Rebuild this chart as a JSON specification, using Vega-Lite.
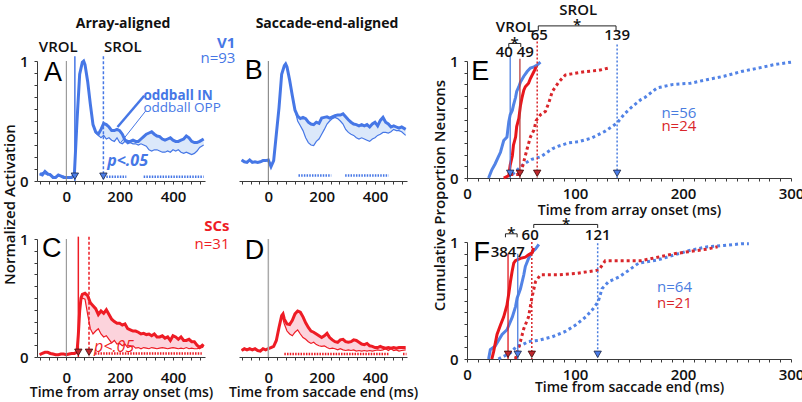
{
"$schema":"https://vega.github.io/schema/vega-lite/v6.json",
"background":"white",
"padding":{"left":2,"top":3,"right":2,"bottom":2},
"config":{
 "view":{"stroke":null},
 "font":"Open Sans",
 "axis":{"grid":false,"domainColor":"#3a3a3a","tickColor":"#3a3a3a","domainWidth":1,"tickWidth":1,"tickSize":3,"labelFont":"Open Sans","labelFontSize":15,"labelFontWeight":600,"labelColor":"#111","labelPadding":5,"labelOverlap":false,"labelFlush":false,"titleFont":"Open Sans","titleFontSize":14,"titleFontWeight":600,"titleColor":"#111","titlePadding":2},
 "title":{"font":"Open Sans","fontSize":14,"fontWeight":"bold","color":"#111","anchor":"middle","frame":"group"},
 "text":{"font":"Open Sans","fontSize":15}
},
"datasets":{
"A":[{"t":-100,"oddIn":0.06,"oddOpp":0.06},{"t":-90,"oddIn":0.05,"oddOpp":0.07},{"t":-80,"oddIn":0.08,"oddOpp":0.06},{"t":-70,"oddIn":0.06,"oddOpp":0.05},{"t":-60,"oddIn":0.05,"oddOpp":0.06},{"t":-50,"oddIn":0.03,"oddOpp":0.04},{"t":-40,"oddIn":0.03,"oddOpp":0.03},{"t":-30,"oddIn":0.05,"oddOpp":0.04},{"t":-20,"oddIn":0.04,"oddOpp":0.04},{"t":-10,"oddIn":0.03,"oddOpp":0.04},{"t":0,"oddIn":0.03,"oddOpp":0.03},{"t":10,"oddIn":0.03,"oddOpp":0.03},{"t":20,"oddIn":0.03,"oddOpp":0.03},{"t":30,"oddIn":0.05,"oddOpp":0.05},{"t":40,"oddIn":0.5,"oddOpp":0.5},{"t":50,"oddIn":0.89,"oddOpp":0.89},{"t":60,"oddIn":0.99,"oddOpp":0.99},{"t":65,"oddIn":1,"oddOpp":1},{"t":70,"oddIn":0.97,"oddOpp":0.97},{"t":80,"oddIn":0.83,"oddOpp":0.83},{"t":90,"oddIn":0.64,"oddOpp":0.64},{"t":100,"oddIn":0.47,"oddOpp":0.47},{"t":110,"oddIn":0.41,"oddOpp":0.4},{"t":120,"oddIn":0.39,"oddOpp":0.38},{"t":130,"oddIn":0.43,"oddOpp":0.36},{"t":140,"oddIn":0.48,"oddOpp":0.38},{"t":150,"oddIn":0.47,"oddOpp":0.35},{"t":160,"oddIn":0.45,"oddOpp":0.36},{"t":170,"oddIn":0.42,"oddOpp":0.34},{"t":180,"oddIn":0.42,"oddOpp":0.33},{"t":190,"oddIn":0.43,"oddOpp":0.36},{"t":200,"oddIn":0.42,"oddOpp":0.32},{"t":210,"oddIn":0.39,"oddOpp":0.31},{"t":220,"oddIn":0.34,"oddOpp":0.33},{"t":230,"oddIn":0.33,"oddOpp":0.31},{"t":240,"oddIn":0.33,"oddOpp":0.32},{"t":250,"oddIn":0.34,"oddOpp":0.31},{"t":260,"oddIn":0.33,"oddOpp":0.31},{"t":270,"oddIn":0.33,"oddOpp":0.3},{"t":280,"oddIn":0.35,"oddOpp":0.31},{"t":290,"oddIn":0.37,"oddOpp":0.3},{"t":300,"oddIn":0.39,"oddOpp":0.29},{"t":310,"oddIn":0.4,"oddOpp":0.26},{"t":320,"oddIn":0.41,"oddOpp":0.25},{"t":330,"oddIn":0.39,"oddOpp":0.26},{"t":340,"oddIn":0.375,"oddOpp":0.26},{"t":350,"oddIn":0.37,"oddOpp":0.25},{"t":360,"oddIn":0.35,"oddOpp":0.24},{"t":370,"oddIn":0.34,"oddOpp":0.24},{"t":380,"oddIn":0.35,"oddOpp":0.25},{"t":390,"oddIn":0.36,"oddOpp":0.24},{"t":400,"oddIn":0.34,"oddOpp":0.26},{"t":410,"oddIn":0.33,"oddOpp":0.25},{"t":420,"oddIn":0.33,"oddOpp":0.26},{"t":430,"oddIn":0.34,"oddOpp":0.24},{"t":440,"oddIn":0.35,"oddOpp":0.23},{"t":450,"oddIn":0.375,"oddOpp":0.24},{"t":460,"oddIn":0.36,"oddOpp":0.23},{"t":470,"oddIn":0.33,"oddOpp":0.22},{"t":480,"oddIn":0.32,"oddOpp":0.23},{"t":490,"oddIn":0.32,"oddOpp":0.25},{"t":500,"oddIn":0.33,"oddOpp":0.28},{"t":515,"oddIn":0.35,"oddOpp":0.3}],
"B":[{"t":-100,"oddIn":0.175,"oddOpp":0.175},{"t":-90,"oddIn":0.16,"oddOpp":0.16},{"t":-80,"oddIn":0.155,"oddOpp":0.16},{"t":-70,"oddIn":0.175,"oddOpp":0.17},{"t":-60,"oddIn":0.155,"oddOpp":0.16},{"t":-50,"oddIn":0.16,"oddOpp":0.155},{"t":-40,"oddIn":0.155,"oddOpp":0.16},{"t":-30,"oddIn":0.16,"oddOpp":0.16},{"t":-20,"oddIn":0.17,"oddOpp":0.165},{"t":-10,"oddIn":0.17,"oddOpp":0.17},{"t":0,"oddIn":0.175,"oddOpp":0.175},{"t":10,"oddIn":0.12,"oddOpp":0.12},{"t":20,"oddIn":0.17,"oddOpp":0.17},{"t":30,"oddIn":0.39,"oddOpp":0.39},{"t":40,"oddIn":0.61,"oddOpp":0.61},{"t":50,"oddIn":0.89,"oddOpp":0.89},{"t":60,"oddIn":0.96,"oddOpp":0.96},{"t":65,"oddIn":0.975,"oddOpp":0.975},{"t":70,"oddIn":0.95,"oddOpp":0.95},{"t":80,"oddIn":0.84,"oddOpp":0.84},{"t":90,"oddIn":0.71,"oddOpp":0.71},{"t":100,"oddIn":0.59,"oddOpp":0.59},{"t":110,"oddIn":0.54,"oddOpp":0.5},{"t":120,"oddIn":0.52,"oddOpp":0.46},{"t":130,"oddIn":0.53,"oddOpp":0.42},{"t":140,"oddIn":0.52,"oddOpp":0.36},{"t":150,"oddIn":0.49,"oddOpp":0.32},{"t":160,"oddIn":0.475,"oddOpp":0.3},{"t":170,"oddIn":0.47,"oddOpp":0.295},{"t":180,"oddIn":0.49,"oddOpp":0.33},{"t":190,"oddIn":0.48,"oddOpp":0.35},{"t":200,"oddIn":0.525,"oddOpp":0.39},{"t":210,"oddIn":0.53,"oddOpp":0.43},{"t":220,"oddIn":0.535,"oddOpp":0.475},{"t":230,"oddIn":0.525,"oddOpp":0.5},{"t":240,"oddIn":0.535,"oddOpp":0.52},{"t":250,"oddIn":0.545,"oddOpp":0.53},{"t":260,"oddIn":0.55,"oddOpp":0.52},{"t":270,"oddIn":0.55,"oddOpp":0.5},{"t":280,"oddIn":0.56,"oddOpp":0.475},{"t":290,"oddIn":0.535,"oddOpp":0.43},{"t":300,"oddIn":0.51,"oddOpp":0.405},{"t":310,"oddIn":0.49,"oddOpp":0.39},{"t":320,"oddIn":0.475,"oddOpp":0.38},{"t":330,"oddIn":0.47,"oddOpp":0.36},{"t":340,"oddIn":0.46,"oddOpp":0.35},{"t":350,"oddIn":0.47,"oddOpp":0.36},{"t":360,"oddIn":0.46,"oddOpp":0.35},{"t":370,"oddIn":0.47,"oddOpp":0.34},{"t":380,"oddIn":0.45,"oddOpp":0.33},{"t":390,"oddIn":0.475,"oddOpp":0.35},{"t":400,"oddIn":0.49,"oddOpp":0.36},{"t":410,"oddIn":0.46,"oddOpp":0.38},{"t":420,"oddIn":0.505,"oddOpp":0.39},{"t":430,"oddIn":0.53,"oddOpp":0.405},{"t":440,"oddIn":0.49,"oddOpp":0.405},{"t":450,"oddIn":0.475,"oddOpp":0.4},{"t":460,"oddIn":0.45,"oddOpp":0.41},{"t":470,"oddIn":0.46,"oddOpp":0.43},{"t":480,"oddIn":0.45,"oddOpp":0.42},{"t":490,"oddIn":0.44,"oddOpp":0.42},{"t":500,"oddIn":0.45,"oddOpp":0.41},{"t":515,"oddIn":0.43,"oddOpp":0.38}],
"C":[{"t":-100,"oddIn":0.02,"oddOpp":0.02},{"t":-90,"oddIn":0.03,"oddOpp":0.03},{"t":-80,"oddIn":0.04,"oddOpp":0.04},{"t":-70,"oddIn":0.04,"oddOpp":0.04},{"t":-60,"oddIn":0.03,"oddOpp":0.03},{"t":-50,"oddIn":0.025,"oddOpp":0.025},{"t":-40,"oddIn":0.02,"oddOpp":0.02},{"t":-30,"oddIn":0.02,"oddOpp":0.02},{"t":-20,"oddIn":0.025,"oddOpp":0.025},{"t":-10,"oddIn":0.025,"oddOpp":0.025},{"t":0,"oddIn":0.02,"oddOpp":0.02},{"t":10,"oddIn":0.025,"oddOpp":0.025},{"t":20,"oddIn":0.03,"oddOpp":0.03},{"t":30,"oddIn":0.03,"oddOpp":0.03},{"t":40,"oddIn":0.04,"oddOpp":0.04},{"t":45,"oddIn":0.19,"oddOpp":0.19},{"t":50,"oddIn":0.39,"oddOpp":0.39},{"t":55,"oddIn":0.5,"oddOpp":0.48},{"t":60,"oddIn":0.53,"oddOpp":0.5},{"t":70,"oddIn":0.54,"oddOpp":0.49},{"t":80,"oddIn":0.52,"oddOpp":0.36},{"t":90,"oddIn":0.46,"oddOpp":0.24},{"t":100,"oddIn":0.435,"oddOpp":0.195},{"t":110,"oddIn":0.41,"oddOpp":0.22},{"t":120,"oddIn":0.36,"oddOpp":0.24},{"t":130,"oddIn":0.39,"oddOpp":0.195},{"t":140,"oddIn":0.37,"oddOpp":0.17},{"t":150,"oddIn":0.4,"oddOpp":0.18},{"t":160,"oddIn":0.36,"oddOpp":0.15},{"t":170,"oddIn":0.32,"oddOpp":0.12},{"t":180,"oddIn":0.3,"oddOpp":0.14},{"t":190,"oddIn":0.285,"oddOpp":0.11},{"t":200,"oddIn":0.285,"oddOpp":0.115},{"t":210,"oddIn":0.27,"oddOpp":0.095},{"t":220,"oddIn":0.28,"oddOpp":0.11},{"t":230,"oddIn":0.24,"oddOpp":0.08},{"t":240,"oddIn":0.23,"oddOpp":0.09},{"t":250,"oddIn":0.22,"oddOpp":0.095},{"t":260,"oddIn":0.22,"oddOpp":0.075},{"t":270,"oddIn":0.21,"oddOpp":0.08},{"t":280,"oddIn":0.195,"oddOpp":0.07},{"t":290,"oddIn":0.2,"oddOpp":0.08},{"t":300,"oddIn":0.19,"oddOpp":0.075},{"t":310,"oddIn":0.195,"oddOpp":0.07},{"t":320,"oddIn":0.18,"oddOpp":0.08},{"t":330,"oddIn":0.195,"oddOpp":0.075},{"t":340,"oddIn":0.17,"oddOpp":0.07},{"t":350,"oddIn":0.17,"oddOpp":0.075},{"t":360,"oddIn":0.18,"oddOpp":0.08},{"t":370,"oddIn":0.16,"oddOpp":0.075},{"t":380,"oddIn":0.17,"oddOpp":0.07},{"t":390,"oddIn":0.14,"oddOpp":0.075},{"t":400,"oddIn":0.18,"oddOpp":0.08},{"t":410,"oddIn":0.17,"oddOpp":0.075},{"t":420,"oddIn":0.15,"oddOpp":0.07},{"t":430,"oddIn":0.17,"oddOpp":0.075},{"t":440,"oddIn":0.14,"oddOpp":0.07},{"t":450,"oddIn":0.14,"oddOpp":0.08},{"t":460,"oddIn":0.15,"oddOpp":0.07},{"t":470,"oddIn":0.13,"oddOpp":0.075},{"t":480,"oddIn":0.13,"oddOpp":0.07},{"t":490,"oddIn":0.1,"oddOpp":0.07},{"t":500,"oddIn":0.08,"oddOpp":0.075},{"t":510,"oddIn":0.1,"oddOpp":0.08},{"t":515,"oddIn":0.09,"oddOpp":0.09}],
"D":[{"t":-100,"oddIn":0.055,"oddOpp":0.055},{"t":-90,"oddIn":0.07,"oddOpp":0.065},{"t":-80,"oddIn":0.06,"oddOpp":0.06},{"t":-70,"oddIn":0.07,"oddOpp":0.065},{"t":-60,"oddIn":0.06,"oddOpp":0.06},{"t":-50,"oddIn":0.07,"oddOpp":0.065},{"t":-40,"oddIn":0.055,"oddOpp":0.055},{"t":-30,"oddIn":0.05,"oddOpp":0.05},{"t":-20,"oddIn":0.07,"oddOpp":0.065},{"t":-10,"oddIn":0.06,"oddOpp":0.06},{"t":0,"oddIn":0.07,"oddOpp":0.07},{"t":10,"oddIn":0.08,"oddOpp":0.08},{"t":20,"oddIn":0.09,"oddOpp":0.09},{"t":30,"oddIn":0.14,"oddOpp":0.14},{"t":40,"oddIn":0.25,"oddOpp":0.25},{"t":50,"oddIn":0.35,"oddOpp":0.34},{"t":55,"oddIn":0.365,"oddOpp":0.32},{"t":60,"oddIn":0.32,"oddOpp":0.28},{"t":70,"oddIn":0.28,"oddOpp":0.22},{"t":80,"oddIn":0.275,"oddOpp":0.195},{"t":90,"oddIn":0.31,"oddOpp":0.18},{"t":100,"oddIn":0.365,"oddOpp":0.21},{"t":110,"oddIn":0.39,"oddOpp":0.23},{"t":120,"oddIn":0.38,"oddOpp":0.195},{"t":130,"oddIn":0.34,"oddOpp":0.165},{"t":140,"oddIn":0.29,"oddOpp":0.15},{"t":150,"oddIn":0.25,"oddOpp":0.13},{"t":160,"oddIn":0.22,"oddOpp":0.115},{"t":170,"oddIn":0.21,"oddOpp":0.125},{"t":180,"oddIn":0.195,"oddOpp":0.105},{"t":190,"oddIn":0.18,"oddOpp":0.095},{"t":200,"oddIn":0.165,"oddOpp":0.09},{"t":210,"oddIn":0.18,"oddOpp":0.095},{"t":220,"oddIn":0.2,"oddOpp":0.08},{"t":230,"oddIn":0.165,"oddOpp":0.07},{"t":240,"oddIn":0.145,"oddOpp":0.075},{"t":250,"oddIn":0.13,"oddOpp":0.07},{"t":260,"oddIn":0.125,"oddOpp":0.06},{"t":270,"oddIn":0.145,"oddOpp":0.07},{"t":280,"oddIn":0.15,"oddOpp":0.06},{"t":290,"oddIn":0.13,"oddOpp":0.055},{"t":300,"oddIn":0.125,"oddOpp":0.06},{"t":310,"oddIn":0.13,"oddOpp":0.055},{"t":320,"oddIn":0.145,"oddOpp":0.06},{"t":330,"oddIn":0.14,"oddOpp":0.05},{"t":340,"oddIn":0.125,"oddOpp":0.055},{"t":350,"oddIn":0.11,"oddOpp":0.05},{"t":360,"oddIn":0.105,"oddOpp":0.055},{"t":370,"oddIn":0.115,"oddOpp":0.05},{"t":380,"oddIn":0.095,"oddOpp":0.055},{"t":390,"oddIn":0.09,"oddOpp":0.05},{"t":400,"oddIn":0.08,"oddOpp":0.055},{"t":410,"oddIn":0.08,"oddOpp":0.06},{"t":420,"oddIn":0.09,"oddOpp":0.055},{"t":430,"oddIn":0.08,"oddOpp":0.06},{"t":440,"oddIn":0.075,"oddOpp":0.07},{"t":450,"oddIn":0.08,"oddOpp":0.055},{"t":460,"oddIn":0.075,"oddOpp":0.07},{"t":470,"oddIn":0.08,"oddOpp":0.055},{"t":480,"oddIn":0.075,"oddOpp":0.06},{"t":490,"oddIn":0.08,"oddOpp":0.05},{"t":500,"oddIn":0.08,"oddOpp":0.055},{"t":515,"oddIn":0.08,"oddOpp":0.06}],
"cdf":[
{"p":"E","s":"v1V","t":20,"v":0},{"p":"E","s":"v1V","t":23,"v":0.07},{"p":"E","s":"v1V","t":26,"v":0.12},{"p":"E","s":"v1V","t":29,"v":0.18},{"p":"E","s":"v1V","t":31,"v":0.22},{"p":"E","s":"v1V","t":32.5,"v":0.27},{"p":"E","s":"v1V","t":34,"v":0.32},{"p":"E","s":"v1V","t":36,"v":0.34},{"p":"E","s":"v1V","t":37,"v":0.35},{"p":"E","s":"v1V","t":38.7,"v":0.48},{"p":"E","s":"v1V","t":40,"v":0.54},{"p":"E","s":"v1V","t":42,"v":0.58},{"p":"E","s":"v1V","t":43,"v":0.62},{"p":"E","s":"v1V","t":45,"v":0.69},{"p":"E","s":"v1V","t":46,"v":0.74},{"p":"E","s":"v1V","t":48,"v":0.78},{"p":"E","s":"v1V","t":49.5,"v":0.82},{"p":"E","s":"v1V","t":52.6,"v":0.87},{"p":"E","s":"v1V","t":55.7,"v":0.91},{"p":"E","s":"v1V","t":58.7,"v":0.94},{"p":"E","s":"v1V","t":62,"v":0.95},{"p":"E","s":"v1V","t":65,"v":0.966},{"p":"E","s":"v1V","t":68,"v":0.99},
{"p":"E","s":"scV","t":34,"v":0},{"p":"E","s":"scV","t":38.7,"v":0.02},{"p":"E","s":"scV","t":40,"v":0.11},{"p":"E","s":"scV","t":42,"v":0.19},{"p":"E","s":"scV","t":43,"v":0.28},{"p":"E","s":"scV","t":45,"v":0.35},{"p":"E","s":"scV","t":46,"v":0.44},{"p":"E","s":"scV","t":48,"v":0.51},{"p":"E","s":"scV","t":49.5,"v":0.62},{"p":"E","s":"scV","t":51,"v":0.69},{"p":"E","s":"scV","t":52.6,"v":0.75},{"p":"E","s":"scV","t":54,"v":0.78},{"p":"E","s":"scV","t":57,"v":0.81},{"p":"E","s":"scV","t":58.7,"v":0.85},{"p":"E","s":"scV","t":62,"v":0.91},{"p":"E","s":"scV","t":64,"v":0.95},
{"p":"E","s":"scS","t":40,"v":0.03},{"p":"E","s":"scS","t":49.5,"v":0.03},{"p":"E","s":"scS","t":52.6,"v":0.14},{"p":"E","s":"scS","t":55.7,"v":0.25},{"p":"E","s":"scS","t":58.7,"v":0.35},{"p":"E","s":"scS","t":62,"v":0.41},{"p":"E","s":"scS","t":64,"v":0.49},{"p":"E","s":"scS","t":68,"v":0.54},{"p":"E","s":"scS","t":72.7,"v":0.57},{"p":"E","s":"scS","t":76,"v":0.65},{"p":"E","s":"scS","t":79,"v":0.74},{"p":"E","s":"scS","t":85,"v":0.82},{"p":"E","s":"scS","t":91,"v":0.88},{"p":"E","s":"scS","t":97,"v":0.89},{"p":"E","s":"scS","t":110,"v":0.91},{"p":"E","s":"scS","t":122,"v":0.92},{"p":"E","s":"scS","t":131,"v":0.94},
{"p":"E","s":"v1S","t":42,"v":0.03},{"p":"E","s":"v1S","t":52.6,"v":0.12},{"p":"E","s":"v1S","t":60,"v":0.16},{"p":"E","s":"v1S","t":68,"v":0.18},{"p":"E","s":"v1S","t":79,"v":0.25},{"p":"E","s":"v1S","t":84,"v":0.27},{"p":"E","s":"v1S","t":94,"v":0.3},{"p":"E","s":"v1S","t":103,"v":0.31},{"p":"E","s":"v1S","t":115,"v":0.34},{"p":"E","s":"v1S","t":128,"v":0.4},{"p":"E","s":"v1S","t":139,"v":0.47},{"p":"E","s":"v1S","t":146,"v":0.55},{"p":"E","s":"v1S","t":153,"v":0.61},{"p":"E","s":"v1S","t":161,"v":0.67},{"p":"E","s":"v1S","t":165,"v":0.69},{"p":"E","s":"v1S","t":176,"v":0.77},{"p":"E","s":"v1S","t":191,"v":0.8},{"p":"E","s":"v1S","t":207,"v":0.81},{"p":"E","s":"v1S","t":222,"v":0.84},{"p":"E","s":"v1S","t":238,"v":0.87},{"p":"E","s":"v1S","t":254,"v":0.91},{"p":"E","s":"v1S","t":270,"v":0.94},{"p":"E","s":"v1S","t":285,"v":0.97},{"p":"E","s":"v1S","t":300,"v":0.99},
{"p":"F","s":"v1V","t":20,"v":0},{"p":"F","s":"v1V","t":21.6,"v":0.08},{"p":"F","s":"v1V","t":26,"v":0.11},{"p":"F","s":"v1V","t":32.5,"v":0.21},{"p":"F","s":"v1V","t":37,"v":0.25},{"p":"F","s":"v1V","t":42,"v":0.36},{"p":"F","s":"v1V","t":45,"v":0.45},{"p":"F","s":"v1V","t":46.4,"v":0.52},{"p":"F","s":"v1V","t":49.5,"v":0.6},{"p":"F","s":"v1V","t":52.6,"v":0.72},{"p":"F","s":"v1V","t":54,"v":0.79},{"p":"F","s":"v1V","t":57,"v":0.86},{"p":"F","s":"v1V","t":60,"v":0.91},{"p":"F","s":"v1V","t":63.4,"v":0.94},{"p":"F","s":"v1V","t":66.5,"v":0.98},
{"p":"F","s":"scV","t":23,"v":0},{"p":"F","s":"scV","t":24.7,"v":0.065},{"p":"F","s":"scV","t":27.8,"v":0.21},{"p":"F","s":"scV","t":31,"v":0.29},{"p":"F","s":"scV","t":34,"v":0.36},{"p":"F","s":"scV","t":37,"v":0.46},{"p":"F","s":"scV","t":38.7,"v":0.56},{"p":"F","s":"scV","t":40.2,"v":0.66},{"p":"F","s":"scV","t":41.8,"v":0.75},{"p":"F","s":"scV","t":43.3,"v":0.82},{"p":"F","s":"scV","t":44.8,"v":0.84},{"p":"F","s":"scV","t":49.5,"v":0.86},{"p":"F","s":"scV","t":54,"v":0.87},{"p":"F","s":"scV","t":57,"v":0.89},{"p":"F","s":"scV","t":60.5,"v":0.91},{"p":"F","s":"scV","t":61.5,"v":0.95},
{"p":"F","s":"scS","t":44.8,"v":0},{"p":"F","s":"scS","t":49.5,"v":0.15},{"p":"F","s":"scS","t":52.6,"v":0.26},{"p":"F","s":"scS","t":57,"v":0.36},{"p":"F","s":"scS","t":60,"v":0.52},{"p":"F","s":"scS","t":63.4,"v":0.66},{"p":"F","s":"scS","t":68,"v":0.72},{"p":"F","s":"scS","t":85,"v":0.72},{"p":"F","s":"scS","t":100,"v":0.73},{"p":"F","s":"scS","t":122,"v":0.76},{"p":"F","s":"scS","t":128,"v":0.84},{"p":"F","s":"scS","t":161,"v":0.84},{"p":"F","s":"scS","t":192,"v":0.9},{"p":"F","s":"scS","t":223,"v":0.94},{"p":"F","s":"scS","t":232,"v":0.96},
{"p":"F","s":"v1S","t":29,"v":0},{"p":"F","s":"v1S","t":40,"v":0.05},{"p":"F","s":"v1S","t":46,"v":0.11},{"p":"F","s":"v1S","t":51,"v":0.12},{"p":"F","s":"v1S","t":57,"v":0.15},{"p":"F","s":"v1S","t":66.5,"v":0.16},{"p":"F","s":"v1S","t":79,"v":0.19},{"p":"F","s":"v1S","t":91,"v":0.235},{"p":"F","s":"v1S","t":100.5,"v":0.29},{"p":"F","s":"v1S","t":110,"v":0.36},{"p":"F","s":"v1S","t":116,"v":0.42},{"p":"F","s":"v1S","t":121.5,"v":0.49},{"p":"F","s":"v1S","t":125,"v":0.6},{"p":"F","s":"v1S","t":131,"v":0.66},{"p":"F","s":"v1S","t":140.7,"v":0.7},{"p":"F","s":"v1S","t":150,"v":0.76},{"p":"F","s":"v1S","t":159,"v":0.82},{"p":"F","s":"v1S","t":176,"v":0.845},{"p":"F","s":"v1S","t":192,"v":0.89},{"p":"F","s":"v1S","t":207,"v":0.93},{"p":"F","s":"v1S","t":223,"v":0.96},{"p":"F","s":"v1S","t":238,"v":0.97},{"p":"F","s":"v1S","t":254,"v":0.985},{"p":"F","s":"v1S","t":261,"v":0.985}
],
"vl":[
{"p":"A","kind":"zero","t":0,"top":1},{"p":"A","kind":"solid","t":32,"top":1.04},{"p":"A","kind":"dash","t":139,"top":1.04},
{"p":"B","kind":"zero","t":0,"top":1},
{"p":"C","kind":"zero","t":0,"top":1},{"p":"C","kind":"solid","t":45,"top":1.02},{"p":"C","kind":"dash","t":85,"top":1.02},
{"p":"D","kind":"zero","t":0,"top":1},
{"p":"E","kind":"bsolid","t":40,"top":1.04},{"p":"E","kind":"rsolid","t":49,"top":1.02},{"p":"E","kind":"rdot","t":65,"top":1.2},{"p":"E","kind":"bdot","t":139,"top":1.14},
{"p":"F","kind":"rsolid","t":38,"top":0.9},{"p":"F","kind":"bsolid","t":47,"top":0.9},{"p":"F","kind":"rdot","t":60,"top":1.0},{"p":"F","kind":"bdot","t":121,"top":0.99}
],
"sig":[
{"p":"A","t":150,"t2":225,"y":0.035},{"p":"A","t":290,"t2":515,"y":0.035},
{"p":"B","t":113,"t2":236,"y":0.045},{"p":"B","t":288,"t2":451,"y":0.045},
{"p":"C","t":108,"t2":508,"y":0.03},
{"p":"D","t":60,"t2":451,"y":0.025},{"p":"D","t":505,"t2":518,"y":0.025}
],
"tri":[
{"p":"A","kind":"blue","t":32},{"p":"A","kind":"blue","t":139},
{"p":"C","kind":"red","t":45},{"p":"C","kind":"red","t":85},
{"p":"E","kind":"blue","t":40},{"p":"E","kind":"red","t":49},{"p":"E","kind":"red","t":65},{"p":"E","kind":"blue","t":139},
{"p":"F","kind":"red","t":38},{"p":"F","kind":"blue","t":47},{"p":"F","kind":"red","t":60},{"p":"F","kind":"blue","t":121}
],
"lead":[
{"p":"A","w":"thick","t":292,"y":0.71,"t2":192,"y2":0.45},
{"p":"A","w":"thin","t":298,"y":0.585,"t2":204,"y2":0.32}
],
"br":[
{"p":"E","t":38.7,"t2":49.8,"y":1.15,"y2":1.15},{"p":"E","t":38.7,"t2":38.7,"y":1.15,"y2":1.12},{"p":"E","t":49.8,"t2":49.8,"y":1.15,"y2":1.12},
{"p":"E","t":66,"t2":138,"y":1.3,"y2":1.3},{"p":"E","t":66,"t2":66,"y":1.3,"y2":1.26},{"p":"E","t":138,"t2":138,"y":1.3,"y2":1.26},
{"p":"F","t":35.6,"t2":46.4,"y":1.07,"y2":1.07},{"p":"F","t":35.6,"t2":35.6,"y":1.07,"y2":1.04},{"p":"F","t":46.4,"t2":46.4,"y":1.07,"y2":1.04},
{"p":"F","t":61.8,"t2":121,"y":1.15,"y2":1.15},{"p":"F","t":61.8,"t2":61.8,"y":1.15,"y2":1.12},{"p":"F","t":121,"t2":121,"y":1.15,"y2":1.12}
],
"lab":[
{"p":"A","role":"letter","t":-84,"y":0.835,"text":"A"},
{"p":"A","role":"black","t":-103,"y":1.075,"text":"VROL"},
{"p":"A","role":"black","t":141,"y":1.075,"text":"SROL"},
{"p":"A","role":"name","t":634,"y":1.11,"text":"V1"},
{"p":"A","role":"n","t":634,"y":0.98,"text":"n=93"},
{"p":"A","role":"legIn","t":289,"y":0.675,"text":"oddball IN"},
{"p":"A","role":"legOpp","t":289,"y":0.575,"text":"oddball OPP"},
{"p":"A","role":"p","t":153,"y":0.125,"text":"p<.05"},
{"p":"B","role":"letter","t":-88,"y":0.85,"text":"B"},
{"p":"C","role":"letter","t":-91,"y":0.847,"text":"C"},
{"p":"C","role":"name","t":612,"y":1.07,"text":"SCs"},
{"p":"C","role":"n","t":612,"y":0.915,"text":"n=31"},
{"p":"C","role":"p","t":104,"y":0.045,"text":"p<.05"},
{"p":"D","role":"letter","t":-88,"y":0.83,"text":"D"},
{"p":"E","role":"letter","t":4,"y":0.84,"text":"E"},
{"p":"E","role":"num","t":44.7,"y":1.25,"text":"VROL"},
{"p":"E","role":"num","t":103,"y":1.39,"text":"SROL"},
{"p":"E","role":"num","t":34.5,"y":1.035,"text":"40"},
{"p":"E","role":"num","t":54,"y":1.035,"text":"49"},
{"p":"E","role":"num","t":67,"y":1.18,"text":"65"},
{"p":"E","role":"num","t":139,"y":1.18,"text":"139"},
{"p":"E","role":"num","t":44,"y":1.11,"text":"*"},
{"p":"E","role":"num","t":102,"y":1.265,"text":"*"},
{"p":"E","role":"nb","t":180,"y":0.51,"text":"n=56"},
{"p":"E","role":"nr","t":180,"y":0.4,"text":"n=24"},
{"p":"F","role":"letter","t":6,"y":0.835,"text":"F"},
{"p":"F","role":"num","t":29.9,"y":0.87,"text":"38"},
{"p":"F","role":"num","t":45.6,"y":0.87,"text":"47"},
{"p":"F","role":"num","t":58.5,"y":1.015,"text":"60"},
{"p":"F","role":"num","t":121,"y":1.015,"text":"121"},
{"p":"F","role":"num","t":41,"y":1.035,"text":"*"},
{"p":"F","role":"num","t":91.7,"y":1.11,"text":"*"},
{"p":"F","role":"nb","t":176,"y":0.575,"text":"n=64"},
{"p":"F","role":"nr","t":176,"y":0.435,"text":"n=21"}
]
},
"spacing":13,
"hconcat":[
{"spacing":-8,
 "hconcat":[
{"vconcat":[
 {"width":168,"height":120,
  "title":{"text":"Array-aligned","offset":5,"dx":2},
  "resolve":{"axis":{"x":"independent","y":"independent"}},
  "layer":[
   {"data":{"name":"A"},"mark":{"type":"area","color":"#dbe8fa","opacity":1},"encoding":{"x":{"field":"t","type":"quantitative","scale":{"domain":[-110,520],"nice":false,"zero":false},"axis":{"title":null,"values":[-100,-66.667,-33.333,0,33.333,66.667,100,133.333,166.667,200,233.333,266.667,300,333.333,366.667,400,433.333,466.667,500],"labelExpr":"datum.value==0||datum.value==200||datum.value==400?datum.label:''"}},"y":{"field":"oddIn","type":"quantitative","scale":{"domain":[0,1],"nice":false,"zero":false},"axis":{"title":"Normalized Activation","titleFontSize":15,"titleX":-23,"titleY":143,"titleBaseline":"alphabetic","values":[0,0.1,0.2,0.3,0.4,0.5,0.6,0.7,0.8,0.9,1],"format":"~g","labelPadding":6,"labelExpr":"datum.value==0||datum.value==1?datum.label:''"}},"y2":{"field":"oddOpp"}}},
   {"data":{"name":"A"},"mark":{"type":"line","color":"#4677e6","strokeWidth":1.2},"encoding":{"x":{"field":"t","type":"quantitative","scale":{"domain":[-110,520]},"axis":null},"y":{"field":"oddOpp","type":"quantitative","scale":{"domain":[0,1]},"axis":null}}},
   {"data":{"name":"A"},"mark":{"type":"line","color":"#4677e6","strokeWidth":3},"encoding":{"x":{"field":"t","type":"quantitative","scale":{"domain":[-110,520]},"axis":null},"y":{"field":"oddIn","type":"quantitative","scale":{"domain":[0,1]},"axis":null}}},
   {"data":{"name":"vl"},"transform":[{"filter":"datum.p=='A'&&datum.kind=='zero'"}],"mark":{"type":"rule","color":"#888","strokeWidth":1},"encoding":{"x":{"field":"t","type":"quantitative","scale":{"domain":[-110,520]},"axis":null},"y":{"field":"top","type":"quantitative","scale":{"domain":[0,1]},"axis":null},"y2":{"datum":0}}},
   {"data":{"name":"vl"},"transform":[{"filter":"datum.p=='A'&&datum.kind=='solid'"}],"mark":{"type":"rule","color":"#4677e6","strokeWidth":1.5},"encoding":{"x":{"field":"t","type":"quantitative","scale":{"domain":[-110,520]},"axis":null},"y":{"field":"top","type":"quantitative","scale":{"domain":[0,1]},"axis":null},"y2":{"datum":0}}},
   {"data":{"name":"vl"},"transform":[{"filter":"datum.p=='A'&&datum.kind=='dash'"}],"mark":{"type":"rule","color":"#4677e6","strokeWidth":1.5,"strokeDash":[3,2]},"encoding":{"x":{"field":"t","type":"quantitative","scale":{"domain":[-110,520]},"axis":null},"y":{"field":"top","type":"quantitative","scale":{"domain":[0,1]},"axis":null},"y2":{"datum":0}}},
   {"data":{"name":"sig"},"transform":[{"filter":"datum.p=='A'"}],"mark":{"type":"rule","color":"#4677e6","strokeWidth":2.5,"strokeDash":[1.5,1.2]},"encoding":{"x":{"field":"t","type":"quantitative","scale":{"domain":[-110,520]},"axis":null},"x2":{"field":"t2"},"y":{"field":"y","type":"quantitative","scale":{"domain":[0,1]},"axis":null}}},
   {"data":{"name":"tri"},"transform":[{"filter":"datum.p=='A'"}],"mark":{"type":"point","shape":"triangle-down","filled":true,"size":55,"color":"#4a7de8","stroke":"#1c2340","strokeWidth":0.8,"opacity":1},"encoding":{"x":{"field":"t","type":"quantitative","scale":{"domain":[-110,520]},"axis":null},"y":{"datum":0.04,"type":"quantitative","scale":{"domain":[0,1]},"axis":null}}},
   {"data":{"name":"lead"},"transform":[{"filter":"datum.p=='A'&&datum.w=='thick'"}],"mark":{"type":"rule","color":"#4677e6","strokeWidth":2.5},"encoding":{"x":{"field":"t","type":"quantitative","scale":{"domain":[-110,520]},"axis":null},"x2":{"field":"t2"},"y":{"field":"y","type":"quantitative","scale":{"domain":[0,1]},"axis":null},"y2":{"field":"y2"}}},
   {"data":{"name":"lead"},"transform":[{"filter":"datum.p=='A'&&datum.w=='thin'"}],"mark":{"type":"rule","color":"#4677e6","strokeWidth":1},"encoding":{"x":{"field":"t","type":"quantitative","scale":{"domain":[-110,520]},"axis":null},"x2":{"field":"t2"},"y":{"field":"y","type":"quantitative","scale":{"domain":[0,1]},"axis":null},"y2":{"field":"y2"}}},
   {"data":{"name":"lab"},"transform":[{"filter":"datum.p=='A'&&datum.role=='letter'"}],"mark":{"type":"text","font":"Liberation Sans","fontSize":27,"align":"left","baseline":"alphabetic","color":"#000"},"encoding":{"x":{"field":"t","type":"quantitative","scale":{"domain":[-110,520]},"axis":null},"y":{"field":"y","type":"quantitative","scale":{"domain":[0,1]},"axis":null},"text":{"field":"text","type":"nominal"}}},
   {"data":{"name":"lab"},"transform":[{"filter":"datum.p=='A'&&datum.role=='black'"}],"mark":{"type":"text","fontSize":15,"fontWeight":600,"align":"left","baseline":"alphabetic","color":"#111"},"encoding":{"x":{"field":"t","type":"quantitative","scale":{"domain":[-110,520]},"axis":null},"y":{"field":"y","type":"quantitative","scale":{"domain":[0,1]},"axis":null},"text":{"field":"text","type":"nominal"}}},
   {"data":{"name":"lab"},"transform":[{"filter":"datum.p=='A'&&datum.role=='name'"}],"mark":{"type":"text","fontSize":15,"fontWeight":"bold","align":"right","baseline":"alphabetic","color":"#4677e6"},"encoding":{"x":{"field":"t","type":"quantitative","scale":{"domain":[-110,520]},"axis":null},"y":{"field":"y","type":"quantitative","scale":{"domain":[0,1]},"axis":null},"text":{"field":"text","type":"nominal"}}},
   {"data":{"name":"lab"},"transform":[{"filter":"datum.p=='A'&&datum.role=='n'"}],"mark":{"type":"text","fontSize":15,"align":"right","baseline":"alphabetic","color":"#4677e6"},"encoding":{"x":{"field":"t","type":"quantitative","scale":{"domain":[-110,520]},"axis":null},"y":{"field":"y","type":"quantitative","scale":{"domain":[0,1]},"axis":null},"text":{"field":"text","type":"nominal"}}},
   {"data":{"name":"lab"},"transform":[{"filter":"datum.p=='A'&&datum.role=='legIn'"}],"mark":{"type":"text","fontSize":13.5,"fontWeight":"bold","align":"left","baseline":"alphabetic","color":"#4677e6"},"encoding":{"x":{"field":"t","type":"quantitative","scale":{"domain":[-110,520]},"axis":null},"y":{"field":"y","type":"quantitative","scale":{"domain":[0,1]},"axis":null},"text":{"field":"text","type":"nominal"}}},
   {"data":{"name":"lab"},"transform":[{"filter":"datum.p=='A'&&datum.role=='legOpp'"}],"mark":{"type":"text","fontSize":13.5,"align":"left","baseline":"alphabetic","color":"#4677e6"},"encoding":{"x":{"field":"t","type":"quantitative","scale":{"domain":[-110,520]},"axis":null},"y":{"field":"y","type":"quantitative","scale":{"domain":[0,1]},"axis":null},"text":{"field":"text","type":"nominal"}}},
   {"data":{"name":"lab"},"transform":[{"filter":"datum.p=='A'&&datum.role=='p'"}],"mark":{"type":"text","fontSize":16,"fontWeight":"bold","fontStyle":"italic","align":"left","baseline":"alphabetic","color":"#4677e6"},"encoding":{"x":{"field":"t","type":"quantitative","scale":{"domain":[-110,520]},"axis":null},"y":{"field":"y","type":"quantitative","scale":{"domain":[0,1]},"axis":null},"text":{"field":"text","type":"nominal"}}}
  ]},
 {"width":168,"height":118,
  "resolve":{"axis":{"x":"independent","y":"independent"}},
  "layer":[
   {"data":{"name":"C"},"mark":{"type":"area","color":"#fcd3dc","opacity":1},"encoding":{"x":{"field":"t","type":"quantitative","scale":{"domain":[-110,520],"nice":false,"zero":false},"axis":{"title":"Time from array onset (ms)","labelPadding":10,"titlePadding":0,"values":[-100,-66.667,-33.333,0,33.333,66.667,100,133.333,166.667,200,233.333,266.667,300,333.333,366.667,400,433.333,466.667,500],"labelExpr":"datum.value==0||datum.value==200||datum.value==400?datum.label:''"}},"y":{"field":"oddIn","type":"quantitative","scale":{"domain":[0,1],"nice":false,"zero":false},"axis":{"title":null,"values":[0,0.1,0.2,0.3,0.4,0.5,0.6,0.7,0.8,0.9,1],"format":"~g","labelPadding":6,"labelExpr":"datum.value==0||datum.value==1?datum.label:''"}},"y2":{"field":"oddOpp"}}},
   {"data":{"name":"C"},"mark":{"type":"line","color":"#ee1c25","strokeWidth":1.2},"encoding":{"x":{"field":"t","type":"quantitative","scale":{"domain":[-110,520]},"axis":null},"y":{"field":"oddOpp","type":"quantitative","scale":{"domain":[0,1]},"axis":null}}},
   {"data":{"name":"C"},"mark":{"type":"line","color":"#ee1c25","strokeWidth":3},"encoding":{"x":{"field":"t","type":"quantitative","scale":{"domain":[-110,520]},"axis":null},"y":{"field":"oddIn","type":"quantitative","scale":{"domain":[0,1]},"axis":null}}},
   {"data":{"name":"vl"},"transform":[{"filter":"datum.p=='C'&&datum.kind=='zero'"}],"mark":{"type":"rule","color":"#888","strokeWidth":1},"encoding":{"x":{"field":"t","type":"quantitative","scale":{"domain":[-110,520]},"axis":null},"y":{"field":"top","type":"quantitative","scale":{"domain":[0,1]},"axis":null},"y2":{"datum":0}}},
   {"data":{"name":"vl"},"transform":[{"filter":"datum.p=='C'&&datum.kind=='solid'"}],"mark":{"type":"rule","color":"#ee1c25","strokeWidth":1.5},"encoding":{"x":{"field":"t","type":"quantitative","scale":{"domain":[-110,520]},"axis":null},"y":{"field":"top","type":"quantitative","scale":{"domain":[0,1]},"axis":null},"y2":{"datum":0}}},
   {"data":{"name":"vl"},"transform":[{"filter":"datum.p=='C'&&datum.kind=='dash'"}],"mark":{"type":"rule","color":"#ee1c25","strokeWidth":1.5,"strokeDash":[3,2]},"encoding":{"x":{"field":"t","type":"quantitative","scale":{"domain":[-110,520]},"axis":null},"y":{"field":"top","type":"quantitative","scale":{"domain":[0,1]},"axis":null},"y2":{"datum":0}}},
   {"data":{"name":"sig"},"transform":[{"filter":"datum.p=='C'"}],"mark":{"type":"rule","color":"#ee1c25","strokeWidth":2.5,"strokeDash":[1.5,1.2]},"encoding":{"x":{"field":"t","type":"quantitative","scale":{"domain":[-110,520]},"axis":null},"x2":{"field":"t2"},"y":{"field":"y","type":"quantitative","scale":{"domain":[0,1]},"axis":null}}},
   {"data":{"name":"tri"},"transform":[{"filter":"datum.p=='C'"}],"mark":{"type":"point","shape":"triangle-down","filled":true,"size":55,"color":"#c0272d","stroke":"#3a0a0a","strokeWidth":0.8,"opacity":1},"encoding":{"x":{"field":"t","type":"quantitative","scale":{"domain":[-110,520]},"axis":null},"y":{"datum":0.04,"type":"quantitative","scale":{"domain":[0,1]},"axis":null}}},
   {"data":{"name":"lab"},"transform":[{"filter":"datum.p=='C'&&datum.role=='letter'"}],"mark":{"type":"text","font":"Liberation Sans","fontSize":27,"align":"left","baseline":"alphabetic","color":"#000"},"encoding":{"x":{"field":"t","type":"quantitative","scale":{"domain":[-110,520]},"axis":null},"y":{"field":"y","type":"quantitative","scale":{"domain":[0,1]},"axis":null},"text":{"field":"text","type":"nominal"}}},
   {"data":{"name":"lab"},"transform":[{"filter":"datum.p=='C'&&datum.role=='name'"}],"mark":{"type":"text","fontSize":15,"fontWeight":"bold","align":"right","baseline":"alphabetic","color":"#ee1c25"},"encoding":{"x":{"field":"t","type":"quantitative","scale":{"domain":[-110,520]},"axis":null},"y":{"field":"y","type":"quantitative","scale":{"domain":[0,1]},"axis":null},"text":{"field":"text","type":"nominal"}}},
   {"data":{"name":"lab"},"transform":[{"filter":"datum.p=='C'&&datum.role=='n'"}],"mark":{"type":"text","fontSize":15,"align":"right","baseline":"alphabetic","color":"#ee1c25"},"encoding":{"x":{"field":"t","type":"quantitative","scale":{"domain":[-110,520]},"axis":null},"y":{"field":"y","type":"quantitative","scale":{"domain":[0,1]},"axis":null},"text":{"field":"text","type":"nominal"}}},
   {"data":{"name":"lab"},"transform":[{"filter":"datum.p=='C'&&datum.role=='p'"}],"mark":{"type":"text","fontSize":16,"fontStyle":"italic","align":"left","baseline":"alphabetic","color":"#ee1c25"},"encoding":{"x":{"field":"t","type":"quantitative","scale":{"domain":[-110,520]},"axis":null},"y":{"field":"y","type":"quantitative","scale":{"domain":[0,1]},"axis":null},"text":{"field":"text","type":"nominal"}}}
  ]}
],"spacing":58,"bounds":"flush"},
{"vconcat":[
 {"width":168,"height":120,
  "title":{"text":"Saccade-end-aligned","offset":26,"dx":4},
  "resolve":{"axis":{"x":"independent","y":"independent"}},
  "layer":[
   {"data":{"name":"B"},"mark":{"type":"area","color":"#dbe8fa","opacity":1},"encoding":{"x":{"field":"t","type":"quantitative","scale":{"domain":[-110,520],"nice":false,"zero":false},"axis":{"title":null,"values":[-100,-66.667,-33.333,0,33.333,66.667,100,133.333,166.667,200,233.333,266.667,300,333.333,366.667,400,433.333,466.667,500],"labelExpr":"datum.value==0||datum.value==200||datum.value==400?datum.label:''"}},"y":{"field":"oddIn","type":"quantitative","scale":{"domain":[0,1],"nice":false,"zero":false},"axis":null},"y2":{"field":"oddOpp"}}},
   {"data":{"name":"B"},"mark":{"type":"line","color":"#4677e6","strokeWidth":1.2},"encoding":{"x":{"field":"t","type":"quantitative","scale":{"domain":[-110,520]},"axis":null},"y":{"field":"oddOpp","type":"quantitative","scale":{"domain":[0,1]},"axis":null}}},
   {"data":{"name":"B"},"mark":{"type":"line","color":"#4677e6","strokeWidth":3},"encoding":{"x":{"field":"t","type":"quantitative","scale":{"domain":[-110,520]},"axis":null},"y":{"field":"oddIn","type":"quantitative","scale":{"domain":[0,1]},"axis":null}}},
   {"data":{"name":"vl"},"transform":[{"filter":"datum.p=='B'&&datum.kind=='zero'"}],"mark":{"type":"rule","color":"#777","strokeWidth":1},"encoding":{"x":{"field":"t","type":"quantitative","scale":{"domain":[-110,520]},"axis":null},"y":{"field":"top","type":"quantitative","scale":{"domain":[0,1]},"axis":null},"y2":{"datum":0}}},
   {"data":{"name":"sig"},"transform":[{"filter":"datum.p=='B'"}],"mark":{"type":"rule","color":"#4677e6","strokeWidth":2.5,"strokeDash":[1.5,1.2]},"encoding":{"x":{"field":"t","type":"quantitative","scale":{"domain":[-110,520]},"axis":null},"x2":{"field":"t2"},"y":{"field":"y","type":"quantitative","scale":{"domain":[0,1]},"axis":null}}},
   {"data":{"name":"lab"},"transform":[{"filter":"datum.p=='B'&&datum.role=='letter'"}],"mark":{"type":"text","font":"Liberation Sans","fontSize":27,"align":"left","baseline":"alphabetic","color":"#000"},"encoding":{"x":{"field":"t","type":"quantitative","scale":{"domain":[-110,520]},"axis":null},"y":{"field":"y","type":"quantitative","scale":{"domain":[0,1]},"axis":null},"text":{"field":"text","type":"nominal"}}}
  ]},
 {"width":168,"height":118,
  "resolve":{"axis":{"x":"independent","y":"independent"}},
  "layer":[
   {"data":{"name":"D"},"mark":{"type":"area","color":"#fcd3dc","opacity":1},"encoding":{"x":{"field":"t","type":"quantitative","scale":{"domain":[-110,520],"nice":false,"zero":false},"axis":{"title":"Time from saccade end (ms)","labelPadding":10,"titlePadding":0,"values":[-100,-66.667,-33.333,0,33.333,66.667,100,133.333,166.667,200,233.333,266.667,300,333.333,366.667,400,433.333,466.667,500],"labelExpr":"datum.value==0||datum.value==200||datum.value==400?datum.label:''"}},"y":{"field":"oddIn","type":"quantitative","scale":{"domain":[0,1],"nice":false,"zero":false},"axis":null},"y2":{"field":"oddOpp"}}},
   {"data":{"name":"D"},"mark":{"type":"line","color":"#ee1c25","strokeWidth":1.2},"encoding":{"x":{"field":"t","type":"quantitative","scale":{"domain":[-110,520]},"axis":null},"y":{"field":"oddOpp","type":"quantitative","scale":{"domain":[0,1]},"axis":null}}},
   {"data":{"name":"D"},"mark":{"type":"line","color":"#ee1c25","strokeWidth":3},"encoding":{"x":{"field":"t","type":"quantitative","scale":{"domain":[-110,520]},"axis":null},"y":{"field":"oddIn","type":"quantitative","scale":{"domain":[0,1]},"axis":null}}},
   {"data":{"name":"vl"},"transform":[{"filter":"datum.p=='D'&&datum.kind=='zero'"}],"mark":{"type":"rule","color":"#aaa","strokeWidth":1.5},"encoding":{"x":{"field":"t","type":"quantitative","scale":{"domain":[-110,520]},"axis":null},"y":{"field":"top","type":"quantitative","scale":{"domain":[0,1]},"axis":null},"y2":{"datum":0}}},
   {"data":{"name":"sig"},"transform":[{"filter":"datum.p=='D'"}],"mark":{"type":"rule","color":"#ee1c25","strokeWidth":2.5,"strokeDash":[1.5,1.2]},"encoding":{"x":{"field":"t","type":"quantitative","scale":{"domain":[-110,520]},"axis":null},"x2":{"field":"t2"},"y":{"field":"y","type":"quantitative","scale":{"domain":[0,1]},"axis":null}}},
   {"data":{"name":"lab"},"transform":[{"filter":"datum.p=='D'&&datum.role=='letter'"}],"mark":{"type":"text","font":"Liberation Sans","fontSize":27,"align":"left","baseline":"alphabetic","color":"#000"},"encoding":{"x":{"field":"t","type":"quantitative","scale":{"domain":[-110,520]},"axis":null},"y":{"field":"y","type":"quantitative","scale":{"domain":[0,1]},"axis":null},"text":{"field":"text","type":"nominal"}}}
  ]}
],"spacing":58,"bounds":"flush"}
]},
{"vconcat":[
 {"width":324,"height":117,
  "resolve":{"axis":{"x":"independent","y":"independent"}},
  "layer":[
   {"data":{"name":"cdf"},"transform":[{"filter":"datum.p=='E'&&datum.s=='v1S'"}],"mark":{"type":"line","color":"#5283e6","strokeWidth":3,"strokeDash":[3,3]},"encoding":{"x":{"field":"t","type":"quantitative","scale":{"domain":[0,300],"nice":false,"zero":false},"axis":{"title":"Time from array onset (ms)","titlePadding":2,"values":[0,10,20,30,40,50,60,70,80,90,100,110,120,130,140,150,160,170,180,190,200,210,220,230,240,250,260,270,280,290,300],"labelExpr":"datum.value%100==0?datum.label:''"}},"y":{"field":"v","type":"quantitative","scale":{"domain":[0,1],"nice":false,"zero":false},"axis":{"title":"Cumulative Proportion Neurons","titleFontSize":15,"titleX":-23,"titleY":134,"titleBaseline":"alphabetic","values":[0,0.1,0.2,0.3,0.4,0.5,0.6,0.7,0.8,0.9,1],"format":"~g","labelPadding":6,"labelExpr":"datum.value==0||datum.value==1?datum.label:''"}}}},
   {"data":{"name":"cdf"},"transform":[{"filter":"datum.p=='E'&&datum.s=='scS'"}],"mark":{"type":"line","color":"#d9262b","strokeWidth":3,"strokeDash":[3,3]},"encoding":{"x":{"field":"t","type":"quantitative","scale":{"domain":[0,300]},"axis":null},"y":{"field":"v","type":"quantitative","scale":{"domain":[0,1]},"axis":null}}},
   {"data":{"name":"cdf"},"transform":[{"filter":"datum.p=='E'&&datum.s=='v1V'"}],"mark":{"type":"line","color":"#5283e6","strokeWidth":3},"encoding":{"x":{"field":"t","type":"quantitative","scale":{"domain":[0,300]},"axis":null},"y":{"field":"v","type":"quantitative","scale":{"domain":[0,1]},"axis":null}}},
   {"data":{"name":"cdf"},"transform":[{"filter":"datum.p=='E'&&datum.s=='scV'"}],"mark":{"type":"line","color":"#e8161c","strokeWidth":3},"encoding":{"x":{"field":"t","type":"quantitative","scale":{"domain":[0,300]},"axis":null},"y":{"field":"v","type":"quantitative","scale":{"domain":[0,1]},"axis":null}}},
   {"data":{"name":"vl"},"transform":[{"filter":"datum.p=='E'&&datum.kind=='bsolid'"}],"mark":{"type":"rule","color":"#4a7de0","strokeWidth":1.3},"encoding":{"x":{"field":"t","type":"quantitative","scale":{"domain":[0,300]},"axis":null},"y":{"field":"top","type":"quantitative","scale":{"domain":[0,1]},"axis":null},"y2":{"datum":0}}},
   {"data":{"name":"vl"},"transform":[{"filter":"datum.p=='E'&&datum.kind=='rsolid'"}],"mark":{"type":"rule","color":"#b83a3a","strokeWidth":1.3},"encoding":{"x":{"field":"t","type":"quantitative","scale":{"domain":[0,300]},"axis":null},"y":{"field":"top","type":"quantitative","scale":{"domain":[0,1]},"axis":null},"y2":{"datum":0}}},
   {"data":{"name":"vl"},"transform":[{"filter":"datum.p=='E'&&datum.kind=='rdot'"}],"mark":{"type":"rule","color":"#d9262b","strokeWidth":1.5,"strokeDash":[2,2]},"encoding":{"x":{"field":"t","type":"quantitative","scale":{"domain":[0,300]},"axis":null},"y":{"field":"top","type":"quantitative","scale":{"domain":[0,1]},"axis":null},"y2":{"datum":0}}},
   {"data":{"name":"vl"},"transform":[{"filter":"datum.p=='E'&&datum.kind=='bdot'"}],"mark":{"type":"rule","color":"#4a7de0","strokeWidth":1.5,"strokeDash":[2,2]},"encoding":{"x":{"field":"t","type":"quantitative","scale":{"domain":[0,300]},"axis":null},"y":{"field":"top","type":"quantitative","scale":{"domain":[0,1]},"axis":null},"y2":{"datum":0}}},
   {"data":{"name":"tri"},"transform":[{"filter":"datum.p=='E'&&datum.kind=='blue'"}],"mark":{"type":"point","shape":"triangle-down","filled":true,"size":55,"color":"#4a7de8","stroke":"#1c2340","strokeWidth":0.8,"opacity":1},"encoding":{"x":{"field":"t","type":"quantitative","scale":{"domain":[0,300]},"axis":null},"y":{"datum":0.04,"type":"quantitative","scale":{"domain":[0,1]},"axis":null}}},
   {"data":{"name":"tri"},"transform":[{"filter":"datum.p=='E'&&datum.kind=='red'"}],"mark":{"type":"point","shape":"triangle-down","filled":true,"size":55,"color":"#c0272d","stroke":"#3a0a0a","strokeWidth":0.8,"opacity":1},"encoding":{"x":{"field":"t","type":"quantitative","scale":{"domain":[0,300]},"axis":null},"y":{"datum":0.04,"type":"quantitative","scale":{"domain":[0,1]},"axis":null}}},
   {"data":{"name":"br"},"transform":[{"filter":"datum.p=='E'"}],"mark":{"type":"rule","color":"#222","strokeWidth":1},"encoding":{"x":{"field":"t","type":"quantitative","scale":{"domain":[0,300]},"axis":null},"x2":{"field":"t2"},"y":{"field":"y","type":"quantitative","scale":{"domain":[0,1]},"axis":null},"y2":{"field":"y2"}}},
   {"data":{"name":"lab"},"transform":[{"filter":"datum.p=='E'&&datum.role=='letter'"}],"mark":{"type":"text","font":"Liberation Sans","fontSize":27,"align":"left","baseline":"alphabetic","color":"#000"},"encoding":{"x":{"field":"t","type":"quantitative","scale":{"domain":[0,300]},"axis":null},"y":{"field":"y","type":"quantitative","scale":{"domain":[0,1]},"axis":null},"text":{"field":"text","type":"nominal"}}},
   {"data":{"name":"lab"},"transform":[{"filter":"datum.p=='E'&&datum.role=='num'"}],"mark":{"type":"text","fontSize":15,"fontWeight":600,"align":"center","baseline":"alphabetic","color":"#111"},"encoding":{"x":{"field":"t","type":"quantitative","scale":{"domain":[0,300]},"axis":null},"y":{"field":"y","type":"quantitative","scale":{"domain":[0,1]},"axis":null},"text":{"field":"text","type":"nominal"}}},
   {"data":{"name":"lab"},"transform":[{"filter":"datum.p=='E'&&datum.role=='nb'"}],"mark":{"type":"text","fontSize":15,"align":"left","baseline":"alphabetic","color":"#4a7de0"},"encoding":{"x":{"field":"t","type":"quantitative","scale":{"domain":[0,300]},"axis":null},"y":{"field":"y","type":"quantitative","scale":{"domain":[0,1]},"axis":null},"text":{"field":"text","type":"nominal"}}},
   {"data":{"name":"lab"},"transform":[{"filter":"datum.p=='E'&&datum.role=='nr'"}],"mark":{"type":"text","fontSize":15,"align":"left","baseline":"alphabetic","color":"#d9262b"},"encoding":{"x":{"field":"t","type":"quantitative","scale":{"domain":[0,300]},"axis":null},"y":{"field":"y","type":"quantitative","scale":{"domain":[0,1]},"axis":null},"text":{"field":"text","type":"nominal"}}}
  ]},
 {"width":324,"height":117,
  "resolve":{"axis":{"x":"independent","y":"independent"}},
  "layer":[
   {"data":{"name":"cdf"},"transform":[{"filter":"datum.p=='F'&&datum.s=='v1S'"}],"mark":{"type":"line","color":"#5283e6","strokeWidth":3,"strokeDash":[3,3]},"encoding":{"x":{"field":"t","type":"quantitative","scale":{"domain":[0,300],"nice":false,"zero":false},"axis":{"title":"Time from saccade end (ms)","titlePadding":-2,"values":[0,10,20,30,40,50,60,70,80,90,100,110,120,130,140,150,160,170,180,190,200,210,220,230,240,250,260,270,280,290,300],"labelExpr":"datum.value%100==0?datum.label:''"}},"y":{"field":"v","type":"quantitative","scale":{"domain":[0,1],"nice":false,"zero":false},"axis":{"title":null,"values":[0,0.1,0.2,0.3,0.4,0.5,0.6,0.7,0.8,0.9,1],"format":"~g","labelPadding":6,"labelExpr":"datum.value==0||datum.value==1?datum.label:''"}}}},
   {"data":{"name":"cdf"},"transform":[{"filter":"datum.p=='F'&&datum.s=='scS'"}],"mark":{"type":"line","color":"#d9262b","strokeWidth":3,"strokeDash":[3,3]},"encoding":{"x":{"field":"t","type":"quantitative","scale":{"domain":[0,300]},"axis":null},"y":{"field":"v","type":"quantitative","scale":{"domain":[0,1]},"axis":null}}},
   {"data":{"name":"cdf"},"transform":[{"filter":"datum.p=='F'&&datum.s=='v1V'"}],"mark":{"type":"line","color":"#5283e6","strokeWidth":3},"encoding":{"x":{"field":"t","type":"quantitative","scale":{"domain":[0,300]},"axis":null},"y":{"field":"v","type":"quantitative","scale":{"domain":[0,1]},"axis":null}}},
   {"data":{"name":"cdf"},"transform":[{"filter":"datum.p=='F'&&datum.s=='scV'"}],"mark":{"type":"line","color":"#e8161c","strokeWidth":3},"encoding":{"x":{"field":"t","type":"quantitative","scale":{"domain":[0,300]},"axis":null},"y":{"field":"v","type":"quantitative","scale":{"domain":[0,1]},"axis":null}}},
   {"data":{"name":"vl"},"transform":[{"filter":"datum.p=='F'&&datum.kind=='bsolid'"}],"mark":{"type":"rule","color":"#4a7de0","strokeWidth":1.3},"encoding":{"x":{"field":"t","type":"quantitative","scale":{"domain":[0,300]},"axis":null},"y":{"field":"top","type":"quantitative","scale":{"domain":[0,1]},"axis":null},"y2":{"datum":0}}},
   {"data":{"name":"vl"},"transform":[{"filter":"datum.p=='F'&&datum.kind=='rsolid'"}],"mark":{"type":"rule","color":"#e0161c","strokeWidth":1.3},"encoding":{"x":{"field":"t","type":"quantitative","scale":{"domain":[0,300]},"axis":null},"y":{"field":"top","type":"quantitative","scale":{"domain":[0,1]},"axis":null},"y2":{"datum":0}}},
   {"data":{"name":"vl"},"transform":[{"filter":"datum.p=='F'&&datum.kind=='rdot'"}],"mark":{"type":"rule","color":"#d9262b","strokeWidth":1.5,"strokeDash":[2,2]},"encoding":{"x":{"field":"t","type":"quantitative","scale":{"domain":[0,300]},"axis":null},"y":{"field":"top","type":"quantitative","scale":{"domain":[0,1]},"axis":null},"y2":{"datum":0}}},
   {"data":{"name":"vl"},"transform":[{"filter":"datum.p=='F'&&datum.kind=='bdot'"}],"mark":{"type":"rule","color":"#4a7de0","strokeWidth":1.5,"strokeDash":[2,2]},"encoding":{"x":{"field":"t","type":"quantitative","scale":{"domain":[0,300]},"axis":null},"y":{"field":"top","type":"quantitative","scale":{"domain":[0,1]},"axis":null},"y2":{"datum":0}}},
   {"data":{"name":"tri"},"transform":[{"filter":"datum.p=='F'&&datum.kind=='blue'"}],"mark":{"type":"point","shape":"triangle-down","filled":true,"size":55,"color":"#4a7de8","stroke":"#1c2340","strokeWidth":0.8,"opacity":1},"encoding":{"x":{"field":"t","type":"quantitative","scale":{"domain":[0,300]},"axis":null},"y":{"datum":0.04,"type":"quantitative","scale":{"domain":[0,1]},"axis":null}}},
   {"data":{"name":"tri"},"transform":[{"filter":"datum.p=='F'&&datum.kind=='red'"}],"mark":{"type":"point","shape":"triangle-down","filled":true,"size":55,"color":"#c0272d","stroke":"#3a0a0a","strokeWidth":0.8,"opacity":1},"encoding":{"x":{"field":"t","type":"quantitative","scale":{"domain":[0,300]},"axis":null},"y":{"datum":0.04,"type":"quantitative","scale":{"domain":[0,1]},"axis":null}}},
   {"data":{"name":"br"},"transform":[{"filter":"datum.p=='F'"}],"mark":{"type":"rule","color":"#222","strokeWidth":1},"encoding":{"x":{"field":"t","type":"quantitative","scale":{"domain":[0,300]},"axis":null},"x2":{"field":"t2"},"y":{"field":"y","type":"quantitative","scale":{"domain":[0,1]},"axis":null},"y2":{"field":"y2"}}},
   {"data":{"name":"lab"},"transform":[{"filter":"datum.p=='F'&&datum.role=='letter'"}],"mark":{"type":"text","font":"Liberation Sans","fontSize":27,"align":"left","baseline":"alphabetic","color":"#000"},"encoding":{"x":{"field":"t","type":"quantitative","scale":{"domain":[0,300]},"axis":null},"y":{"field":"y","type":"quantitative","scale":{"domain":[0,1]},"axis":null},"text":{"field":"text","type":"nominal"}}},
   {"data":{"name":"lab"},"transform":[{"filter":"datum.p=='F'&&datum.role=='num'"}],"mark":{"type":"text","fontSize":15,"fontWeight":600,"align":"center","baseline":"alphabetic","color":"#111"},"encoding":{"x":{"field":"t","type":"quantitative","scale":{"domain":[0,300]},"axis":null},"y":{"field":"y","type":"quantitative","scale":{"domain":[0,1]},"axis":null},"text":{"field":"text","type":"nominal"}}},
   {"data":{"name":"lab"},"transform":[{"filter":"datum.p=='F'&&datum.role=='nb'"}],"mark":{"type":"text","fontSize":15,"align":"left","baseline":"alphabetic","color":"#4a7de0"},"encoding":{"x":{"field":"t","type":"quantitative","scale":{"domain":[0,300]},"axis":null},"y":{"field":"y","type":"quantitative","scale":{"domain":[0,1]},"axis":null},"text":{"field":"text","type":"nominal"}}},
   {"data":{"name":"lab"},"transform":[{"filter":"datum.p=='F'&&datum.role=='nr'"}],"mark":{"type":"text","fontSize":15,"align":"left","baseline":"alphabetic","color":"#d9262b"},"encoding":{"x":{"field":"t","type":"quantitative","scale":{"domain":[0,300]},"axis":null},"y":{"field":"y","type":"quantitative","scale":{"domain":[0,1]},"axis":null},"text":{"field":"text","type":"nominal"}}}
  ]}
],"spacing":64,"bounds":"flush"}
]
}
